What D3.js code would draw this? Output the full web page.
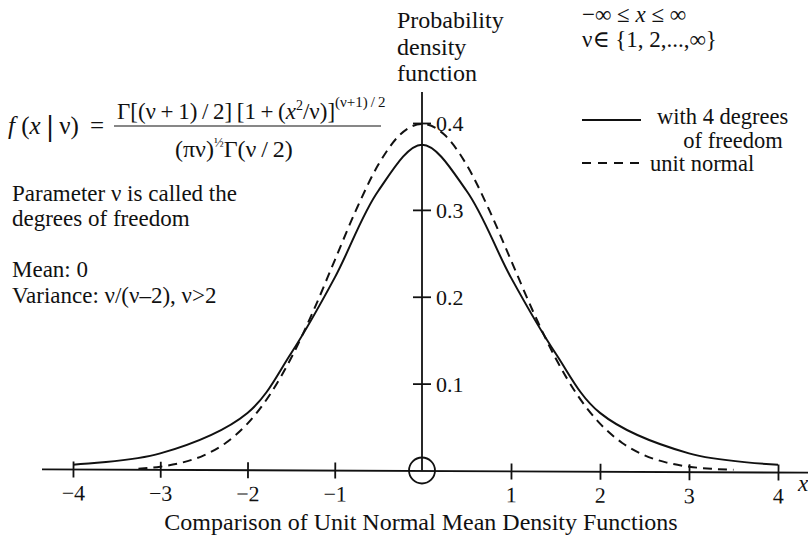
<!DOCTYPE html>
<html><head><meta charset="utf-8">
<script src="https://cdn.jsdelivr.net/npm/d3@7/dist/d3.min.js"></script>
<style>
html,body{margin:0;padding:0;background:#fff;}
svg{display:block;}
svg text{font-family:"Liberation Serif","DejaVu Serif","Noto Serif",serif !important;fill:#111;}
</style></head>
<body><svg id="c" width="808" height="537"></svg>
<script>
// ---- data ----
const xTicks = [-4, -3, -2, -1, 1, 2, 3, 4];
const xTickLabels = ["\u22124", "\u22123", "\u22122", "\u22121", "1", "2", "3", "4"];
const yTicks = [0.1, 0.2, 0.3, 0.4];
const yTickLabels = ["0.1", "0.2", "0.3", "0.4"];
// t distribution, 4 degrees of freedom (solid)
const tX = [-4, -3, -2, -1.5, -1, -0.5, 0, 0.5, 1, 1.5, 2, 3, 4];
const tY = [0.0067, 0.0197, 0.0663, 0.135, 0.222, 0.322, 0.375, 0.322, 0.222, 0.135, 0.0663, 0.0197, 0.0067];
// unit normal (dashed)
const nX = [-3.25, -3, -2.75, -2.5, -2.25, -2, -1.75, -1.5, -1.25, -1, -0.75, -0.5, -0.25, 0,
            0.25, 0.5, 0.75, 1, 1.25, 1.5, 1.75, 2, 2.25, 2.5, 2.75, 3, 3.25, 3.5];
const nY = [0.0020, 0.0044, 0.0091, 0.0175, 0.0317, 0.0540, 0.0863, 0.1295, 0.1826, 0.2420, 0.3011, 0.3521, 0.3867, 0.3989,
            0.3867, 0.3521, 0.3011, 0.2420, 0.1826, 0.1295, 0.0863, 0.0540, 0.0317, 0.0175, 0.0091, 0.0044, 0.0020, 0.0009];
const legendLabels = ["with 4 degrees", "of freedom", "unit normal"];
const title = "Comparison of Unit Normal Mean Density Functions";

// ---- drawing ----
const svg = d3.select("#c");
const x = d3.scaleLinear().domain([-4, 0, 4]).range([73, 422, 778]);
const y = d3.scaleLinear().domain([0, 0.4]).range([470.5, 123]);
const FS = 23;

// x axis (slightly tilted as in the original)
const gx = svg.append("g").attr("transform", "translate(0,471) rotate(0.254,422,0)");
gx.append("line").attr("x1", 42).attr("x2", 812).attr("y1", 0).attr("y2", 0)
  .attr("stroke", "#111").attr("stroke-width", 1.8);
const xAxis = d3.axisBottom(x).tickValues(xTicks).tickFormat((d, i) => xTickLabels[i]).tickSize(0).tickPadding(0);
gx.call(xAxis);
gx.select(".domain").remove();
gx.selectAll(".tick line").attr("y1", -8).attr("y2", 8).attr("stroke", "#111").attr("stroke-width", 1.8);
gx.selectAll(".tick text").attr("y", 31).attr("dy", null).attr("font-size", 22).attr("fill", "#111");

// y axis
const gy = svg.append("g").attr("transform", `translate(${x(0)},0)`);
gy.append("line").attr("x1", 0).attr("x2", 0).attr("y1", 92).attr("y2", y(0))
  .attr("stroke", "#111").attr("stroke-width", 1.8);
const yAxis = d3.axisRight(y).tickValues(yTicks).tickFormat((d, i) => yTickLabels[i]).tickSize(0).tickPadding(0);
gy.call(yAxis);
gy.select(".domain").remove();
gy.selectAll(".tick line").attr("x1", -9).attr("x2", 9).attr("stroke", "#111").attr("stroke-width", 1.8);
gy.selectAll(".tick text").attr("x", 14).attr("dy", "0.35em").attr("font-size", 22).attr("fill", "#111");

// origin circle
svg.append("circle").attr("cx", x(0)).attr("cy", y(0)).attr("r", 13)
  .attr("fill", "none").attr("stroke", "#111").attr("stroke-width", 1.8);

// curves
const tLine = d3.line().x(d => x(d[0])).y(d => y(d[1])).curve(d3.curveCatmullRom.alpha(0.5));
const nLine = d3.line().x(d => x(d[0])).y(d => y(d[1])).curve(d3.curveMonotoneX);
svg.append("path").datum(tX.map((v, i) => [v, tY[i]])).attr("d", tLine)
  .attr("fill", "none").attr("stroke", "#111").attr("stroke-width", 2);
svg.append("path").datum(nX.map((v, i) => [v, nY[i]])).attr("d", nLine)
  .attr("fill", "none").attr("stroke", "#111").attr("stroke-width", 2).attr("stroke-dasharray", "9,6");

// axis labels
const yl = svg.append("text").attr("x", 397).attr("y", 28).attr("font-size", 24);
["Probability", "density", "function"].forEach((s, i) =>
  yl.append("tspan").attr("x", 397).attr("dy", i ? 26.5 : 0).text(s));
svg.append("text").attr("x", 798).attr("y", 491).attr("font-size", FS).attr("font-style", "italic").text("x");
svg.append("text").attr("x", 421).attr("y", 530).attr("text-anchor", "middle").attr("font-size", 24).text(title);

// domain notes
svg.append("text").attr("x", 582).attr("y", 22).attr("font-size", FS)
  .html('\u2212\u221E \u2264 <tspan font-style="italic">x</tspan> \u2264 \u221E');
svg.append("text").attr("x", 582).attr("y", 47).attr("font-size", FS).text("\u03BD\u2208 {1, 2,...,\u221E}");

// legend
svg.append("line").attr("x1", 582).attr("x2", 641).attr("y1", 120).attr("y2", 120).attr("stroke", "#111").attr("stroke-width", 2);
svg.append("line").attr("x1", 582).attr("x2", 641).attr("y1", 163).attr("y2", 163).attr("stroke", "#111").attr("stroke-width", 2).attr("stroke-dasharray", "9,7");
svg.append("text").attr("x", 657).attr("y", 124).attr("font-size", 22.5).text(legendLabels[0]);
svg.append("text").attr("x", 733).attr("y", 147.5).attr("font-size", 22.5).attr("text-anchor", "middle").text(legendLabels[1]);
svg.append("text").attr("x", 650).attr("y", 171).attr("font-size", 22.5).text(legendLabels[2]);

// left notes
const notes = [["Parameter \u03BD is called the", 201], ["degrees of freedom", 226], ["Mean: 0", 277], ["Variance: \u03BD/(\u03BD\u20132), \u03BD>2", 303]];
notes.forEach(n => svg.append("text").attr("x", 12).attr("y", n[1]).attr("font-size", FS).text(n[0]));

// formula
const fm = svg.append("g");
fm.append("text").attr("x", 8).attr("y", 134).attr("font-size", 25)
  .html('<tspan font-style="italic">f</tspan> (<tspan font-style="italic">x</tspan><tspan font-weight="bold" font-size="30" dy="2">\u2009|\u2009</tspan><tspan dy="-2">\u03BD)</tspan>');
fm.append("text").attr("x", 90).attr("y", 134).attr("font-size", 25).text("=");
fm.append("line").attr("x1", 114).attr("x2", 381).attr("y1", 126).attr("y2", 126).attr("stroke", "#111").attr("stroke-width", 1.2);
fm.append("text").attr("x", 117).attr("y", 119).attr("font-size", 23)
  .html('\u0393[(\u03BD\u2009+\u20091)\u2009/\u20092]\u2009[1\u2009+\u2009(<tspan font-style="italic">x</tspan><tspan font-size="14" dy="-9">2</tspan><tspan dy="9">/\u03BD)]</tspan><tspan font-size="15" dy="-12">(\u03BD+1)\u2009/\u20092</tspan>');
fm.append("text").attr("x", 175).attr("y", 157).attr("font-size", 24)
  .html('(\u03C0\u03BD)<tspan font-size="13" dy="-10">\u00BD</tspan><tspan dy="10">\u0393(\u03BD\u2009/\u20092)</tspan>');
</script></body></html>
